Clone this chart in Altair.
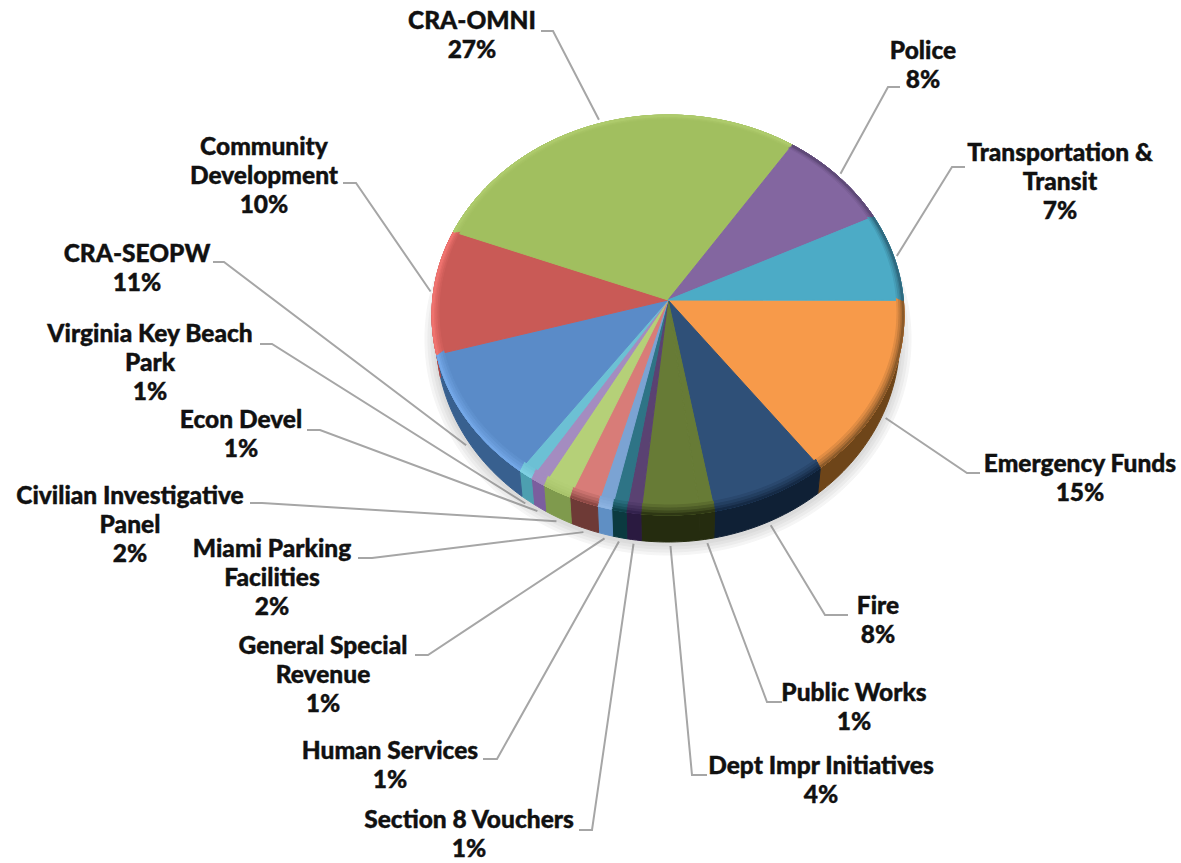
import math
import altair as alt

# Budget shares, clockwise around the pie
names = ["Emergency Funds", "Fire", "Public Works", "Dept Impr Initiatives",
         "Section 8 Vouchers", "Human Services", "General Special\nRevenue",
         "Miami Parking\nFacilities", "Civilian Investigative\nPanel", "Econ Devel",
         "Virginia Key Beach\nPark", "CRA-SEOPW", "Community\nDevelopment",
         "CRA-OMNI", "Police", "Transportation &\nTransit"]
shares = [15, 8, 1, 4, 1, 1, 1, 2, 2, 1, 1, 11, 10, 27, 8, 7]

face_colors = ["#f79a4a", "#2f5078", "#677b36", "#677b36", "#5a4272", "#2e7486", "#7ba3d3",
               "#d87c78", "#b5d078", "#a48cc0", "#6cc0d4", "#5a8bc8", "#c95a56", "#a1bf5f",
               "#8366a0", "#4cabc6"]
side_colors = ["#6e4519", "#0f2035", "#252c0f", "#252c0f", "#2a1a40", "#0b3a40", "#5f8fc4",
               "#6e3a36", "#7f9a4d", "#7b5e9e", "#4d9fb0", "#38608f", "#b04a48", "#8aa850",
               "#6a5088", "#2f7f98"]
rim_colors = ["#8a5a2a", "#152a45", "#2e3714", "#2e3714", "#33224d", "#10454d", "#8db4e2",
              "#8f4a46", "#a9c46c", "#a48cc0", "#7fd0e2", "#74a8e8", "#f0736f", "#aecb6c",
              "#5f4a78", "#2f6a80"]

# Label placement: column centre, first line y, leader knee points (label end, elbow)
label_x = [1080, 878, 854, 821, 469, 390, 323, 272, 130, 241, 150, 137, 264, 472, 923, 1060]
label_y = [465, 607, 694, 767, 821, 752, 647, 550, 497, 421, 335, 255, 148, 22, 52, 154]
leader_start = [(980, 473), (848, 615), (782, 702), (707, 775), (579, 830), (483, 759),
                (415, 655), (358, 558), (250, 503), (307, 430), (260, 344), (213, 262),
                (343, 183), (541, 31), (900, 87), (965, 167)]
leader_elbow = [(967, 473), (825, 615), (767, 702), (692, 775), (592, 830), (497, 759),
                (428, 655), (372, 558), (262, 503), (320, 430), (272, 344), (224, 262),
                (356, 183), (553, 31), (888, 87), (952, 167)]

LINE_HEIGHT = 29
START_ANGLE = 85.8
CX, CY, RX, RY = 668, 315, 236, 200
APEX = (668, 300)
BASE_CY, BASE_RX, BASE_RY = 337, 232, 205
W, H = 1181, 863


def ellipse_pt(t, cx=CX, cy=CY, rx=RX, ry=RY):
    a = math.radians(t)
    return [cx + rx * math.sin(a), cy - ry * math.cos(a)]


def arc(t0, t1, **kw):
    n = max(2, int(abs(t1 - t0) / 1.5) + 2)
    return [ellipse_pt(t0 + (t1 - t0) * i / (n - 1), **kw) for i in range(n)]


def feature(ring, color, opacity=1.0):
    return {"type": "Feature",
            "properties": {"color": color, "opacity": opacity},
            "geometry": {"type": "Polygon", "coordinates": [ring + [ring[0]]]}}


total = sum(shares)
edges = [START_ANGLE]
for s in shares:
    edges.append(edges[-1] + 360 * s / total)

features = []

# soft shadow under the pie
for k, grow in enumerate([11, 8, 5, 2]):
    outline = arc(60, 300, cy=BASE_CY + 2, rx=BASE_RX + grow, ry=BASE_RY + grow)
    features.append(feature(outline, "#808080", 0.07))

# outer wall, only where it faces the viewer
for i in range(len(shares)):
    a, b = max(edges[i], 90), min(edges[i + 1], 270)
    if b > a:
        top = arc(a, b)
        bottom = arc(b, a, cy=BASE_CY, rx=BASE_RX, ry=BASE_RY)
        features.append(feature(top + bottom, side_colors[i]))

# top surface
for i in range(len(shares)):
    features.append(feature([list(APEX)] + arc(edges[i], edges[i + 1]), face_colors[i]))


def mix(c1, c2, f):
    p = [int(c1[j:j + 2], 16) for j in (1, 3, 5)]
    q = [int(c2[j:j + 2], 16) for j in (1, 3, 5)]
    return "#" + "".join(f"{round(u + (v - u) * f):02x}" for u, v in zip(p, q))


# bevel along the rim, fading into the surface colour
for shift, inset, f in [(3, 7, 0.2), (2, 5, 0.45), (1, 3, 0.7), (0, 1.5, 1.0)]:
    for i in range(len(shares)):
        outer = arc(edges[i], edges[i + 1])
        inner = arc(edges[i + 1], edges[i], cy=CY - shift, rx=RX - inset, ry=RY - inset)
        features.append(feature(outer + inner, mix(face_colors[i], rim_colors[i], f)))

# leader lines run from the label to the rim at each slice's middle
leader_rows = []
for i in range(len(shares)):
    mid = (edges[i] + edges[i + 1]) / 2
    lower = math.cos(math.radians(mid)) < 0
    if lower:
        tip = ellipse_pt(mid, cy=BASE_CY, rx=BASE_RX + 4, ry=BASE_RY + 4)
    else:
        tip = ellipse_pt(mid, rx=RX + 3, ry=RY + 4)
    for order, pt in enumerate([leader_start[i], leader_elbow[i], tip]):
        leader_rows.append({"name": names[i], "order": order, "x": pt[0], "y": pt[1]})

label_rows = []
for i in range(len(shares)):
    lines = names[i].split("\n") + [f"{shares[i]}%"]
    for j, line in enumerate(lines):
        label_rows.append({"text": line, "x": label_x[i], "y": label_y[i] + j * LINE_HEIGHT})

x_scale = alt.Scale(domain=[0, W], range=[0, W], nice=False, zero=False)
y_scale = alt.Scale(domain=[0, H], range=[0, H], nice=False, zero=False)

pie = alt.Chart(alt.Data(values=features)).mark_geoshape(strokeWidth=1).encode(
    fill=alt.Fill("properties.color:N", scale=None),
    stroke=alt.Stroke("properties.color:N", scale=None),
    opacity=alt.Opacity("properties.opacity:Q", scale=None),
).project(type="identity", scale=1, translate=[0, 0])

leaders = alt.Chart(alt.Data(values=leader_rows)).mark_line(color="#a6a6a6", strokeWidth=2).encode(
    x=alt.X("x:Q", scale=x_scale, axis=None),
    y=alt.Y("y:Q", scale=y_scale, axis=None),
    detail="name:N",
    order="order:Q",
)

labels = alt.Chart(alt.Data(values=label_rows)).mark_text(
    font="Lato", fontSize=24.5, fontWeight=900, color="#111111", align="center", baseline="middle",
    stroke="#111111", strokeWidth=0.4
).encode(
    x=alt.X("x:Q", scale=x_scale, axis=None),
    y=alt.Y("y:Q", scale=y_scale, axis=None),
    text="text:N",
)

chart = alt.layer(leaders, pie, labels).properties(
    width=W, height=H, padding=0, autosize=alt.AutoSizeParams(type="none")
).configure_view(stroke=None)

chart.save("out.html", embed_options={"renderer": "svg", "actions": False})
